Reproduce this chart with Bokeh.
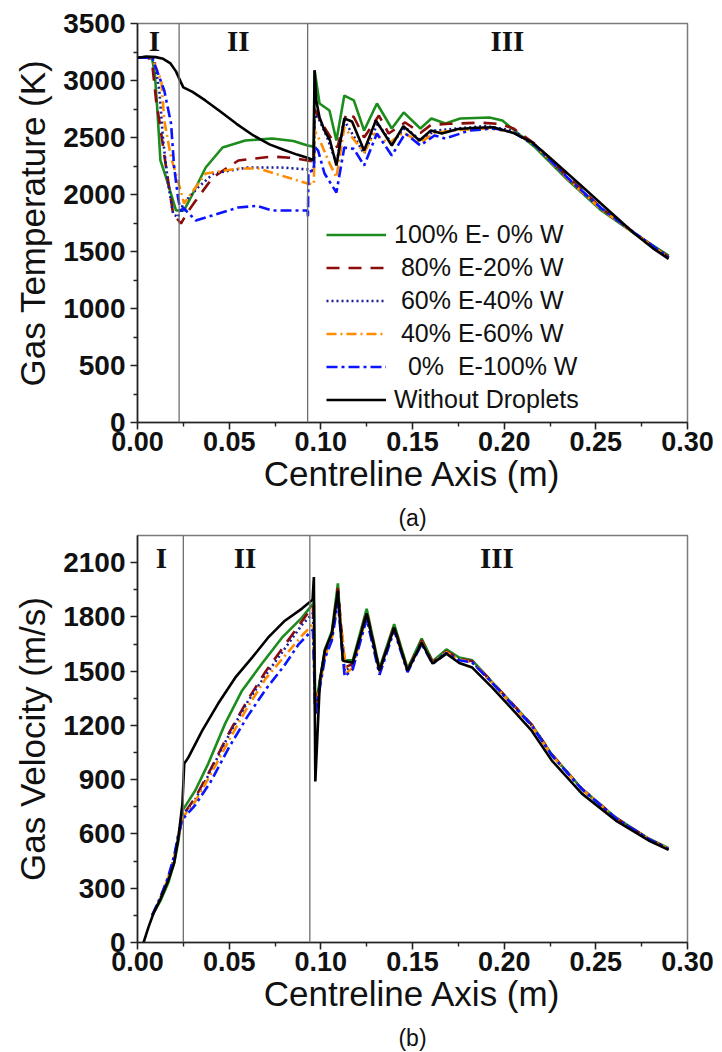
from bokeh.plotting import figure
from bokeh.layouts import column
from bokeh.models import Span, Label, Legend, LegendItem, FixedTicker, NumeralTickFormatter, Range1d
from bokeh.core.properties import value
from bokeh.embed import file_html
from bokeh.resources import INLINE

# ---------------- data: (a) gas temperature (K) ----------------
t_black_x = [0, 0.005, 0.010, 0.014, 0.018, 0.021, 0.0235, 0.025, 0.030, 0.037, 0.045, 0.054, 0.063, 0.072, 0.080, 0.087,
             0.093, 0.0960, 0.0966, 0.0975, 0.0993, 0.102, 0.105, 0.1085, 0.1128, 0.117, 0.1236, 0.130, 0.1387, 0.145,
             0.1538, 0.160, 0.166, 0.1748, 0.185, 0.194, 0.205, 0.215, 0.2245, 0.2407, 0.257, 0.271, 0.281, 0.2897]
t_black_y = [3200, 3210, 3205, 3190, 3150, 3080, 2990, 2940, 2900, 2825, 2730, 2620, 2520, 2440, 2390, 2350,
             2320, 2300, 3090, 2825, 2676, 2561, 2474, 2254, 2667, 2640, 2386, 2650, 2430, 2600,
             2474, 2561, 2535, 2575, 2585, 2590, 2540, 2460, 2330, 2096, 1860, 1658, 1530, 1435]

t_green_x = [0, 0.004, 0.008, 0.0095, 0.011, 0.0125, 0.0156, 0.0194, 0.021, 0.0254, 0.0302, 0.0372, 0.0464, 0.0588,
             0.0734, 0.085, 0.0928, 0.0962, 0.0966, 0.0993, 0.1047, 0.1085, 0.1128, 0.118, 0.1236, 0.1306, 0.1387,
             0.1452, 0.1543, 0.1603, 0.168, 0.176, 0.192, 0.199, 0.217, 0.235, 0.253, 0.271, 0.2897]
t_green_y = [3200, 3205, 3190, 3050, 2700, 2300, 2149, 1947, 1860, 1860, 2009, 2237, 2412, 2474,
             2491, 2470, 2430, 2420, 3090, 2798, 2737, 2474, 2868, 2825, 2561, 2798, 2579,
             2720, 2579, 2667, 2623, 2667, 2676, 2650, 2412, 2123, 1860, 1658, 1465]

t_red_x = [0, 0.006, 0.008, 0.0103, 0.0119, 0.0156, 0.0194, 0.0237, 0.0275, 0.0318, 0.041, 0.055, 0.0734, 0.085,
           0.0928, 0.0962, 0.0966, 0.100, 0.103, 0.109, 0.1139, 0.118, 0.1236, 0.1317, 0.137, 0.146, 0.1543, 0.160,
           0.170, 0.187, 0.197, 0.205, 0.217, 0.235, 0.253, 0.271, 0.2897]
t_red_y = [3200, 3200, 3150, 2800, 2649, 2237, 1833, 1745, 1850, 1947, 2149, 2298, 2333, 2320,
           2298, 2290, 2750, 2640, 2561, 2412, 2711, 2680, 2500, 2693, 2535, 2632, 2540, 2610,
           2620, 2630, 2620, 2580, 2440, 2150, 1880, 1665, 1450]

t_navy_x = [0, 0.008, 0.0092, 0.0119, 0.0140, 0.0167, 0.0194, 0.022, 0.025, 0.0329, 0.0415, 0.060, 0.078, 0.0928,
            0.0962, 0.0966, 0.0985, 0.1035, 0.1085, 0.1128, 0.1236, 0.131, 0.1387, 0.146, 0.1543, 0.162, 0.175,
            0.190, 0.205, 0.217, 0.235, 0.253, 0.271, 0.2897]
t_navy_y = [3200, 3200, 3180, 2912, 2474, 2096, 1833, 1798, 1921, 2061, 2184, 2237, 2237, 2220,
            2210, 2700, 2676, 2500, 2272, 2649, 2360, 2623, 2447, 2588, 2474, 2560, 2580,
            2600, 2560, 2430, 2130, 1870, 1660, 1445]

t_orange_x = [0, 0.008, 0.0130, 0.0146, 0.0183, 0.022, 0.0254, 0.0265, 0.0372, 0.0550, 0.0659, 0.0820, 0.0928,
              0.0962, 0.0966, 0.0995, 0.104, 0.1085, 0.1128, 0.1236, 0.129, 0.137, 0.145, 0.1543, 0.162, 0.175,
              0.190, 0.205, 0.217, 0.235, 0.253, 0.271, 0.2897]
t_orange_y = [3200, 3200, 3000, 2649, 2325, 2123, 1921, 1947, 2184, 2228, 2228, 2149, 2096,
              2090, 2560, 2474, 2300, 2149, 2588, 2368, 2535, 2447, 2544, 2456, 2540, 2565,
              2580, 2550, 2430, 2130, 1870, 1660, 1445]

t_blue_x = [0, 0.008, 0.0146, 0.0183, 0.0200, 0.0221, 0.0237, 0.0248, 0.0318, 0.0372, 0.055, 0.065, 0.0734,
            0.0928, 0.0930, 0.0932, 0.0962, 0.0966, 0.0985, 0.1020, 0.1085, 0.1128, 0.118, 0.1236, 0.1306, 0.1387,
            0.146, 0.1543, 0.162, 0.168, 0.181, 0.195, 0.205, 0.217, 0.235, 0.253, 0.271, 0.2897]
t_blue_y = [3200, 3200, 2912, 2623, 2237, 1974, 1833, 1886, 1772, 1798, 1886, 1900, 1860,
            1860, 1800, 2200, 2210, 2420, 2386, 2184, 2018, 2412, 2400, 2254, 2535, 2342,
            2535, 2430, 2518, 2491, 2561, 2579, 2545, 2430, 2140, 1880, 1665, 1450]

# ---------------- data: (b) gas velocity (m/s) ----------------
v_black_x = [0.0033, 0.006, 0.0087, 0.0125, 0.0168, 0.0200, 0.0223, 0.0245, 0.0255, 0.0277, 0.0353, 0.044, 0.0533,
             0.0625, 0.0712, 0.0804, 0.0897, 0.0955, 0.0962, 0.0970, 0.0995, 0.1022, 0.106, 0.1093, 0.112, 0.1174,
             0.125, 0.132, 0.140, 0.1473, 0.155, 0.161, 0.1685, 0.1755, 0.1826, 0.1935, 0.2035, 0.215, 0.226,
             0.2424, 0.2609, 0.2788, 0.2897]
v_black_y = [0, 85, 160, 240, 343, 440, 580, 768, 989, 1022, 1171, 1321, 1464,
             1575, 1685, 1779, 1846, 1895, 2020, 890, 1448, 1614, 1708, 1945, 1558, 1547,
             1818, 1503, 1741, 1503, 1658, 1542, 1597, 1545, 1520, 1409, 1300, 1171, 1006,
             823, 674, 564, 512]

v_green_x = [0.008, 0.0125, 0.0168, 0.0200, 0.0223, 0.0245, 0.0315, 0.0386, 0.0478, 0.0570, 0.0679, 0.0788, 0.0897,
             0.0957, 0.0962, 0.0970, 0.0995, 0.1022, 0.106, 0.1093, 0.112, 0.1174, 0.125, 0.132, 0.140, 0.1473,
             0.155, 0.161, 0.1685, 0.1755, 0.1826, 0.1935, 0.2035, 0.215, 0.226, 0.2424, 0.2609, 0.2788, 0.2897]
v_green_y = [150, 230, 330, 440, 560, 729, 840, 989, 1210, 1392, 1542, 1685, 1796,
             1873, 1880, 1300, 1450, 1620, 1720, 1985, 1560, 1560, 1845, 1515, 1760, 1515,
             1680, 1555, 1620, 1575, 1560, 1440, 1330, 1205, 1040, 850, 690, 575, 522]

v_red_x = [0.008, 0.0125, 0.0168, 0.0200, 0.0223, 0.0245, 0.0315, 0.040, 0.050, 0.060, 0.070, 0.080, 0.090, 0.0957,
           0.0970, 0.0995, 0.1022, 0.106, 0.1093, 0.113, 0.1174, 0.125, 0.132, 0.140, 0.1473, 0.155, 0.161, 0.1685,
           0.1755, 0.1826, 0.1935, 0.2035, 0.215, 0.226, 0.2424, 0.2609, 0.2788, 0.2897]
v_red_y = [150, 240, 350, 460, 580, 700, 800, 960, 1160, 1340, 1500, 1640, 1780, 1860,
           1290, 1440, 1600, 1700, 1960, 1520, 1540, 1830, 1505, 1750, 1505, 1670, 1550, 1610,
           1570, 1555, 1440, 1330, 1205, 1040, 850, 690, 572, 518]

v_navy_x = [0.008, 0.0125, 0.0168, 0.0200, 0.0223, 0.0245, 0.0315, 0.040, 0.050, 0.060, 0.070, 0.080, 0.090, 0.0957,
            0.0970, 0.0995, 0.1022, 0.106, 0.1093, 0.113, 0.1174, 0.125, 0.132, 0.140, 0.1473, 0.155, 0.161, 0.1685,
            0.1755, 0.1826, 0.1935, 0.2035, 0.215, 0.226, 0.2424, 0.2609, 0.2788, 0.2897]
v_navy_y = [150, 245, 355, 465, 585, 700, 790, 950, 1150, 1330, 1480, 1620, 1760, 1820,
            1280, 1430, 1590, 1690, 1930, 1500, 1530, 1820, 1495, 1740, 1500, 1660, 1545, 1605,
            1565, 1550, 1435, 1325, 1200, 1035, 848, 688, 572, 516]

v_orange_x = [0.008, 0.0125, 0.0168, 0.0200, 0.0223, 0.0245, 0.0315, 0.040, 0.050, 0.060, 0.070, 0.080, 0.090,
              0.0957, 0.0970, 0.0995, 0.1022, 0.106, 0.1093, 0.114, 0.1174, 0.125, 0.132, 0.140, 0.1473, 0.155,
              0.161, 0.1685, 0.1755, 0.1826, 0.1935, 0.2035, 0.215, 0.226, 0.2424, 0.2609, 0.2788, 0.2897]
v_orange_y = [150, 250, 360, 470, 590, 690, 780, 930, 1120, 1300, 1460, 1580, 1700,
              1760, 1270, 1420, 1580, 1680, 1910, 1490, 1520, 1810, 1495, 1735, 1500, 1660,
              1545, 1605, 1565, 1550, 1435, 1325, 1200, 1035, 848, 688, 572, 516]

v_blue_x = [0.008, 0.0125, 0.0168, 0.0200, 0.0223, 0.0245, 0.0315, 0.040, 0.050, 0.060, 0.070, 0.080, 0.088,
            0.0957, 0.0970, 0.0995, 0.1022, 0.106, 0.1093, 0.113, 0.1174, 0.125, 0.132, 0.140, 0.1473, 0.155, 0.161,
            0.1685, 0.1755, 0.1826, 0.1935, 0.2035, 0.215, 0.226, 0.2424, 0.2609, 0.2788, 0.2897]
v_blue_y = [150, 250, 365, 480, 600, 680, 760, 890, 1080, 1250, 1400, 1530, 1650,
            1730, 1260, 1410, 1570, 1670, 1880, 1470, 1510, 1790, 1480, 1725, 1495, 1650, 1540,
            1600, 1560, 1548, 1435, 1325, 1200, 1035, 848, 688, 572, 516]

series_labels = ["100% E- 0% W", " 80% E-20% W", " 60% E-40% W", " 40% E-60% W", "  0%  E-100% W", "Without Droplets"]
temp_zone_bounds = [0.0227, 0.0928]
vel_zone_bounds = [0.025, 0.094]
zone_names = ["I", "II", "III"]
x_ticks = [0.00, 0.05, 0.10, 0.15, 0.20, 0.25, 0.30]
x_minor_ticks = [0.025, 0.075, 0.125, 0.175, 0.225, 0.275]
temp_yticks = [0, 500, 1000, 1500, 2000, 2500, 3000, 3500]
temp_yminor = [250, 750, 1250, 1750, 2250, 2750, 3250]
vel_yticks = [0, 300, 600, 900, 1200, 1500, 1800, 2100]
vel_yminor = [150, 450, 750, 1050, 1350, 1650, 1950]
captions = ["(a)", "(b)"]

STYLES = [
    dict(color="#1c8c1c", dash="solid", width=2.6),
    dict(color="#8b0a0a", dash="13 9", width=2.6),
    dict(color="#1a1a9c", dash="2 3", width=2.6),
    dict(color="#ff8c00", dash="10 4 2 4", width=2.6),
    dict(color="#0a14ff", dash="11 4 3 4", width=2.6),
    dict(color="#000000", dash="solid", width=2.6),
]

SANS = "Liberation Sans"
SERIF = "Liberation Serif"


def style_fig(p, yticks, yminor, xlabel, ylabel):
    p.xaxis.ticker = FixedTicker(ticks=x_ticks, minor_ticks=x_minor_ticks)
    p.yaxis.ticker = FixedTicker(ticks=yticks, minor_ticks=yminor)
    p.xaxis.formatter = NumeralTickFormatter(format="0.00")
    p.xgrid.visible = False
    p.ygrid.visible = False
    p.outline_line_color = "#7a7a7a"
    p.outline_line_width = 1.5
    for ax in (p.xaxis[0], p.yaxis[0]):
        ax.axis_line_color = "#222222"
        ax.axis_line_width = 1.6
        ax.major_tick_line_color = "#222222"
        ax.minor_tick_line_color = "#222222"
        ax.major_tick_line_width = 1.6
        ax.minor_tick_line_width = 1.4
        ax.major_tick_in = 0
        ax.major_tick_out = 7
        ax.minor_tick_in = 0
        ax.minor_tick_out = 4
        ax.major_label_text_font = SANS
        ax.major_label_text_font_style = "bold"
        ax.major_label_text_color = "#111111"
        ax.axis_label_text_font = SANS
        ax.axis_label_text_font_style = "normal"
        ax.axis_label_text_color = "#111111"
    p.xaxis.major_label_text_font_size = "27px"
    p.yaxis.major_label_text_font_size = "28px"
    p.xaxis.axis_label_text_font_size = "35px"
    p.yaxis.axis_label_text_font_size = "35px"
    p.xaxis.axis_label = xlabel
    p.yaxis.axis_label = ylabel
    p.xaxis.major_label_standoff = 2
    p.yaxis.major_label_standoff = 5
    p.xaxis.axis_label_standoff = 0
    p.yaxis.axis_label_standoff = 8


def make_fig(height, border, yrange, yticks, yminor, ylabel, series, bounds, zone_pos, zone_y, legend=False):
    p = figure(width=722, height=height, x_range=Range1d(0, 0.30), y_range=Range1d(*yrange),
               output_backend="svg", toolbar_location=None,
               min_border_left=border[0], min_border_right=border[1],
               min_border_top=border[2], min_border_bottom=border[3])
    style_fig(p, yticks, yminor, "Centreline Axis (m)", ylabel)
    for b in bounds:
        p.add_layout(Span(location=b, dimension="height", line_color="#6e6e6e", line_width=1.3))
    renderers = []
    for (xs, ys), st in zip(series, STYLES):
        r = p.line(xs, ys, line_color=st["color"], line_dash=st["dash"], line_width=st["width"])
        renderers.append(r)
    for name, zx in zip(zone_names, zone_pos):
        p.add_layout(Label(x=zx, y=zone_y, text=name, text_font=SERIF, text_font_style="bold",
                           text_font_size="29px", text_align="center", text_baseline="middle",
                           text_color="#111111"))
    if legend:
        items = [LegendItem(label=lab, renderers=[r]) for lab, r in zip(series_labels, renderers)]
        lg = Legend(items=items, location=(189, 8), padding=0, margin=0, spacing=4,
                    glyph_width=60, glyph_height=29, label_height=29, label_standoff=8,
                    label_text_font=SANS, label_text_font_size="25px", label_text_color="#111111",
                    border_line_alpha=0, background_fill_alpha=0)
        p.add_layout(lg, "center")
    return p


def caption_fig(text, height):
    c = figure(width=722, height=height, x_range=Range1d(0, 722), y_range=Range1d(0, height),
               output_backend="svg", toolbar_location=None, x_axis_type=None, y_axis_type=None,
               min_border=0)
    c.outline_line_color = None
    c.xgrid.visible = False
    c.ygrid.visible = False
    c.text(x=[361], y=[height / 2.0], text=[text], text_align="center", text_baseline="middle",
           text_font=value(SANS), text_font_size="23px", text_color="#111111")
    return c


temp_series = [(t_green_x, t_green_y), (t_red_x, t_red_y), (t_navy_x, t_navy_y),
               (t_orange_x, t_orange_y), (t_blue_x, t_blue_y), (t_black_x, t_black_y)]
vel_series = [(v_green_x, v_green_y), (v_red_x, v_red_y), (v_navy_x, v_navy_y),
              (v_orange_x, v_orange_y), (v_blue_x, v_blue_y), (v_black_x, v_black_y)]

p1 = make_fig(502, (131, 35, 23, 80), (0, 3500), temp_yticks, temp_yminor, "Gas Temperature (K)", temp_series,
              temp_zone_bounds, [0.0092, 0.055, 0.2018], 3345, legend=True)
c1 = caption_fig(captions[0], 30)
p2 = make_fig(490, (137, 33, 3, 80), (0, 2250), vel_yticks, vel_yminor, "Gas Velocity (m/s)", vel_series,
              vel_zone_bounds, [0.013, 0.0587, 0.196], 2128)
c2 = caption_fig(captions[1], 30)

layout = column(p1, c1, p2, c2, spacing=0)
open("out.html", "w").write(file_html(layout, INLINE))
